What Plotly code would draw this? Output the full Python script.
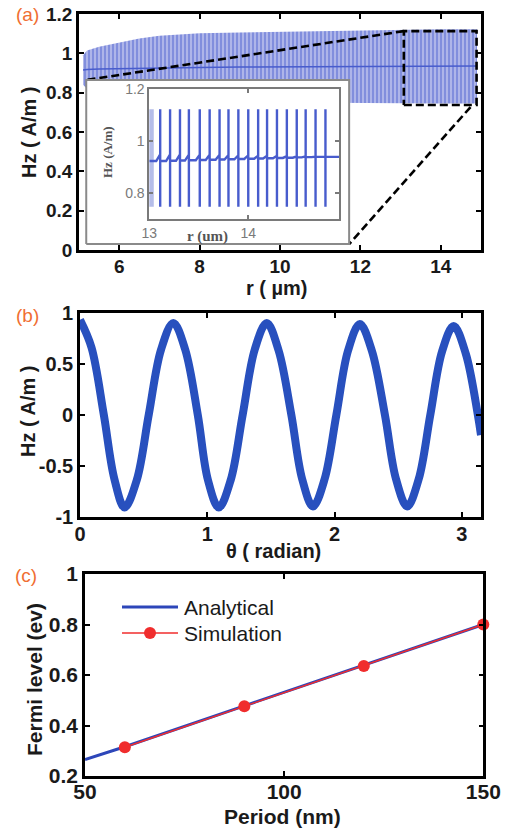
import plotly.graph_objects as go

W, H = 511, 829

# ---------------- data: panel (a) main band (envelopes) ----------------
band_r   = [5.10, 5.20, 5.50, 6.00, 6.50, 7.00, 7.50, 8.00, 9.00, 10.00, 11.00, 12.00, 13.00, 14.00, 14.90]
band_top = [0.990, 1.015, 1.033, 1.055, 1.075, 1.090, 1.097, 1.102, 1.106, 1.110, 1.113, 1.117, 1.120, 1.123, 1.123]
band_mid = [0.915, 0.918, 0.920, 0.922, 0.924, 0.926, 0.927, 0.928, 0.930, 0.931, 0.932, 0.933, 0.934, 0.935, 0.936]
band_bot = [0.840, 0.820, 0.810, 0.790, 0.775, 0.765, 0.758, 0.755, 0.752, 0.750, 0.748, 0.747, 0.746, 0.745, 0.745]

# ---------------- data: panel (a) inset ----------------
inset_spike_r = [13.11, 13.21, 13.31, 13.40, 13.51, 13.61, 13.71, 13.80, 13.90,
                 14.00, 14.10, 14.19, 14.29, 14.39, 14.49, 14.58, 14.68, 14.78]
inset_mid_low = [0.924, 0.925, 0.926, 0.927, 0.928, 0.929, 0.930, 0.931, 0.932,
                 0.933, 0.934, 0.935, 0.936, 0.937, 0.938, 0.939, 0.940, 0.940]
inset_mid_high = [0.950, 0.950, 0.950, 0.949, 0.949, 0.948, 0.948, 0.947, 0.946,
                  0.946, 0.945, 0.944, 0.944, 0.943, 0.942, 0.942, 0.941, 0.941]
inset_top = 1.123
inset_bot = 0.748
inset_start = [13.00, 0.924]
inset_end = [14.92, 0.940]
inset_faint_r = 13.02

# ---------------- data: panel (b) ----------------
theta = [0.000, 0.090, 0.187, 0.270, 0.350, 0.446, 0.540, 0.637, 0.733, 0.826, 0.925, 1.005,
         1.090, 1.184, 1.278, 1.373, 1.467, 1.560, 1.660, 1.745, 1.830, 1.922, 2.014, 2.106,
         2.198, 2.292, 2.395, 2.482, 2.570, 2.661, 2.752, 2.844, 2.935, 3.030, 3.125, 3.150]
hz_theta = [0.93, 0.66, 0.00, -0.63, -0.91, -0.64, 0.00, 0.64, 0.90, 0.64, 0.00, -0.64,
            -0.91, -0.64, 0.00, 0.64, 0.90, 0.63, 0.00, -0.63, -0.90, -0.63, 0.00, 0.63,
            0.89, 0.63, 0.00, -0.63, -0.90, -0.63, 0.00, 0.62, 0.87, 0.60, 0.00, -0.20]

# ---------------- data: panel (c) ----------------
period_analytical = [50, 60, 90, 120, 150]
fermi_analytical = [0.265, 0.316, 0.478, 0.638, 0.800]
period_sim = [60, 90, 120, 150]
fermi_sim = [0.314, 0.476, 0.636, 0.800]

# tick labels
a_xticks = [6, 8, 10, 12, 14]
a_yticks = [0, 0.2, 0.4, 0.6, 0.8, 1.0, 1.2]
a_yticktext = ["0", "0.2", "0.4", "0.6", "0.8", "1", "1.2"]
inset_xticks = [13, 14]
inset_yticks = [0.8, 1.0, 1.2]
inset_yticktext = ["0.8", "1", "1.2"]
b_xticks = [0, 1, 2, 3]
b_yticks = [-1, -0.5, 0, 0.5, 1]
b_yticktext = ["-1", "-0.5", "0", "0.5", "1"]
c_xticks = [50, 100, 150]
c_yticks = [0.2, 0.4, 0.6, 0.8, 1.0]
c_yticktext = ["0.2", "0.4", "0.6", "0.8", "1"]

# ---------------- styles ----------------
SANS = "Liberation Sans, Arial, sans-serif"
SERIF = "Liberation Serif, Times New Roman, serif"
BLUE_A = "rgb(72,92,205)"
BLUE_B = "rgb(40,80,190)"
BLUE_C = "rgb(45,70,185)"
RED_C = "rgb(240,45,45)"
ORANGE = "rgb(240,110,50)"
INK = "#1a1a1a"
GRAY = "#7a7a7a"


def px_x(x):
    return x / W


def px_y(y):
    return 1 - y / H


fig = go.Figure()

# ---- panel (a): band ----
fig.add_trace(go.Scatter(
    x=band_r + band_r[::-1], y=band_top + band_bot[::-1],
    fill="toself", mode="lines", line=dict(width=0),
    fillcolor="rgb(185,190,236)",
    fillpattern=dict(shape="|", size=4, solidity=0.6,
                     fgcolor="rgb(74,94,206)", bgcolor="rgb(185,190,236)"),
    hoverinfo="skip", showlegend=False, xaxis="x", yaxis="y"))
fig.add_trace(go.Scatter(x=band_r, y=band_mid, mode="lines",
                         line=dict(color=BLUE_A, width=1.5),
                         showlegend=False, xaxis="x", yaxis="y"))

# zoom rectangle + connector lines (dashed)
zr = dict(x0=13.08, x1=14.89, y0=0.737, y1=1.113)
box = dict(x0=5.18, x1=11.72, y0=0.030, y1=0.864)
dash = dict(color="black", width=2.6, dash="8px,4px")
fig.add_trace(go.Scatter(
    x=[zr["x0"], zr["x1"], zr["x1"], zr["x0"], zr["x0"]],
    y=[zr["y0"], zr["y0"], zr["y1"], zr["y1"], zr["y0"]],
    mode="lines", line=dash, showlegend=False, xaxis="x", yaxis="y"))
fig.add_trace(go.Scatter(x=[zr["x0"], box["x0"]], y=[zr["y1"], box["y1"]],
                         mode="lines", line=dash, showlegend=False, xaxis="x", yaxis="y"))
fig.add_trace(go.Scatter(x=[zr["x1"] - 0.15, box["x1"]], y=[zr["y0"] - 0.01, box["y0"]],
                         mode="lines", line=dash, showlegend=False, xaxis="x", yaxis="y"))
# inset white box
fig.add_trace(go.Scatter(
    x=[box["x0"], box["x1"], box["x1"], box["x0"], box["x0"]],
    y=[box["y0"], box["y0"], box["y1"], box["y1"], box["y0"]],
    fill="toself", fillcolor="white", mode="lines",
    line=dict(color="#8a8a8a", width=2), showlegend=False, xaxis="x", yaxis="y"))

# ---- inset traces ----
RAMP = 0.04
xs, ys = [inset_start[0]], [inset_start[1]]
prev = inset_start[1]
for k, r in enumerate(inset_spike_r):
    xs += [r - RAMP, r, r, r, r]
    ys += [prev, inset_mid_high[k], inset_top, inset_bot, inset_mid_low[k]]
    prev = inset_mid_low[k]
xs.append(inset_end[0])
ys.append(inset_end[1])
fig.add_trace(go.Scatter(x=[inset_faint_r, inset_faint_r], y=[inset_bot, inset_top], mode="lines",
                         line=dict(color="rgba(120,135,215,0.55)", width=5),
                         showlegend=False, xaxis="x2", yaxis="y2"))
fig.add_trace(go.Scatter(x=xs, y=ys, mode="lines", line=dict(color=BLUE_A, width=2.4),
                         showlegend=False, xaxis="x2", yaxis="y2"))

# ---- panel (b) ----
fig.add_trace(go.Scatter(x=theta, y=hz_theta, mode="lines",
                         line=dict(color=BLUE_B, width=8, shape="spline", smoothing=1.0),
                         showlegend=False, xaxis="x3", yaxis="y3"))

# ---- panel (c) ----
fig.add_trace(go.Scatter(x=period_analytical, y=fermi_analytical, mode="lines",
                         line=dict(color=BLUE_C, width=3), name="Analytical",
                         showlegend=False, xaxis="x4", yaxis="y4"))
fig.add_trace(go.Scatter(x=period_sim, y=fermi_sim, mode="lines+markers",
                         line=dict(color=RED_C, width=1.5),
                         marker=dict(color=RED_C, size=12), name="Simulation",
                         cliponaxis=False, showlegend=False, xaxis="x4", yaxis="y4"))

# ---------------- axes ----------------
def main_axis(domain, rng, tickvals, ticktext=None, size=19, standoff=0):
    d = dict(domain=domain, range=rng, tickvals=tickvals, ticks="inside", ticklen=5,
             tickwidth=2, tickcolor="black", showline=True, linecolor="black", linewidth=2.6,
             mirror="ticks", showgrid=False, zeroline=False, automargin=False,
             ticklabelstandoff=standoff,
             tickfont=dict(family=SANS, size=size, color=INK, weight="bold"))
    if ticktext is not None:
        d["ticktext"] = ticktext
    return d


def inset_axis(domain, rng, tickvals, ticktext=None):
    d = dict(domain=domain, range=rng, tickvals=tickvals, ticks="inside", ticklen=4,
             tickwidth=1.5, tickcolor=GRAY, showline=True, linecolor=GRAY, linewidth=1.8,
             mirror="ticks", showgrid=False, zeroline=False, automargin=False,
             tickfont=dict(family=SANS, size=14, color=GRAY))
    if ticktext is not None:
        d["ticktext"] = ticktext
    return d


layout = dict(
    width=W, height=H, autosize=False,
    margin=dict(l=0, r=0, t=0, b=0),
    paper_bgcolor="white", plot_bgcolor="white", showlegend=False,
    xaxis=main_axis([px_x(79), px_x(481)], [5, 15], a_xticks, standoff=-3),
    yaxis=main_axis([px_y(250), px_y(14)], [0, 1.2], a_yticks, a_yticktext),
    xaxis2=inset_axis([px_x(149.3), px_x(339.3)], [13, 14.92], inset_xticks),
    yaxis2=inset_axis([px_y(219.3), px_y(89.3)], [0.7, 1.2], inset_yticks, inset_yticktext),
    xaxis3=main_axis([px_x(80), px_x(481)], [0, 3.15], b_xticks, size=20, standoff=-3),
    yaxis3=main_axis([px_y(516.7), px_y(312.7)], [-1, 1], b_yticks, b_yticktext, size=20),
    xaxis4=main_axis([px_x(85), px_x(483.3)], [50, 150], c_xticks, size=21, standoff=-5),
    yaxis4=main_axis([px_y(776), px_y(574)], [0.2, 1.0], c_yticks, c_yticktext, size=21),
)
layout["xaxis2"]["anchor"] = "y2"
layout["yaxis2"]["anchor"] = "x2"
layout["xaxis3"]["anchor"] = "y3"
layout["yaxis3"]["anchor"] = "x3"
layout["xaxis4"]["anchor"] = "y4"
layout["yaxis4"]["anchor"] = "x4"
fig.update_layout(**layout)


def ann(text, x, y, size, color=INK, family=SANS, angle=0, weight="bold", xanchor="center"):
    fig.add_annotation(text=text, x=px_x(x), y=px_y(y), xref="paper", yref="paper",
                       showarrow=False, textangle=angle, xanchor=xanchor, yanchor="middle",
                       font=dict(family=family, size=size, color=color, weight=weight))


# panel labels
ann("(a)", 27, 15, 19, color=ORANGE, weight="normal")
ann("(b)", 27, 315, 19, color=ORANGE, weight="normal")
ann("(c)", 26, 575, 19, color=ORANGE, weight="normal")

# axis titles
ann("Hz ( A/m )", 29, 133, 20, angle=-90)
ann("r ( µm)", 277, 288, 20)
ann("Hz ( A/m )", 28, 412, 20, angle=-90)
ann("θ ( radian)", 273, 551, 20)
ann("Fermi level (ev)", 34, 680, 21, angle=-90)
ann("Period (nm)", 282, 816, 21)

# inset titles
ann("Hz (A/m)", 108, 152, 13, color="#555555", family=SERIF, angle=-90, weight="bold")
ann("r (um)", 207, 236, 15, color="#555555", family=SERIF, weight="bold")

# manual legend (panel c)
fig.add_shape(type="line", xref="paper", yref="paper", x0=px_x(122), x1=px_x(178),
              y0=px_y(607), y1=px_y(607), line=dict(color=BLUE_C, width=3))
fig.add_shape(type="line", xref="paper", yref="paper", x0=px_x(122), x1=px_x(178),
              y0=px_y(633), y1=px_y(633), line=dict(color=RED_C, width=1.5))
fig.add_shape(type="circle", xref="paper", yref="paper", x0=px_x(144), x1=px_x(156),
              y0=px_y(639), y1=px_y(627), fillcolor=RED_C, line=dict(color=RED_C, width=0))
ann("Analytical", 182, 607, 21, weight="normal", xanchor="left")
ann("Simulation", 182, 633, 21, weight="normal", xanchor="left")

fig.write_html("out.html", config={"displayModeBar": False},
               post_script="document.body.style.margin='0px';")
